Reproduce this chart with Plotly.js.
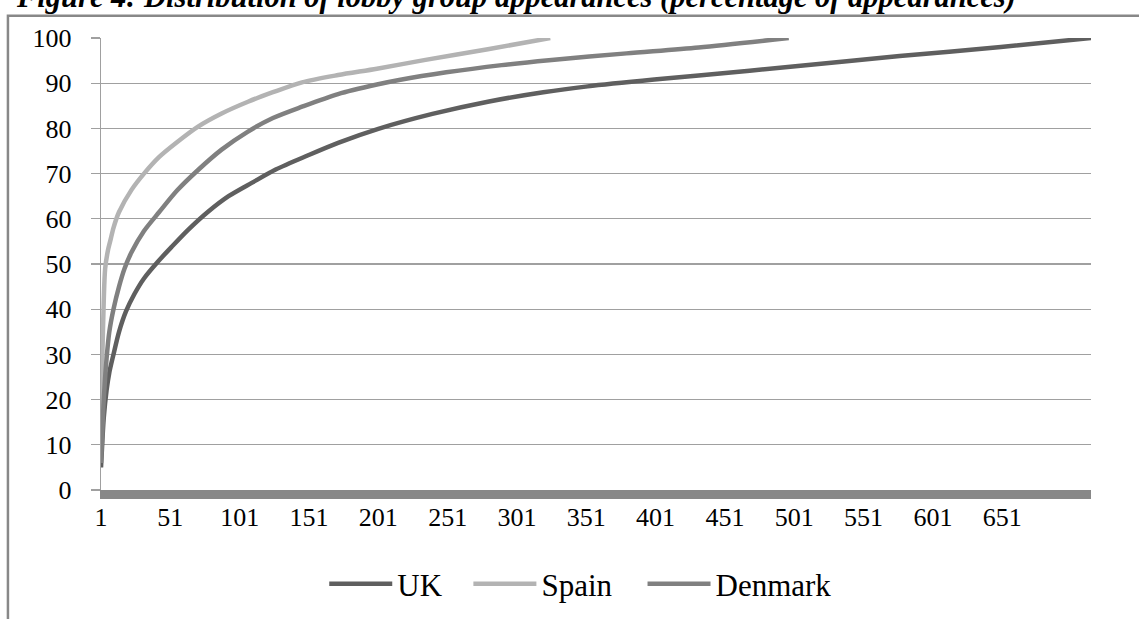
<!DOCTYPE html>
<html>
<head>
<meta charset="utf-8">
<script src="https://cdn.plot.ly/plotly-3.0.1.min.js"></script>
<style>
html,body{margin:0;padding:0;background:#fff;}
#chart{width:1139px;height:619px;}
</style>
</head>
<body>
<div id="chart"></div>
<script>
// Ranked lobby groups (x) and cumulative % of appearances (y)
var ukX = [1, 2, 3, 5, 7, 10, 14, 19, 25, 32, 42, 52, 64, 78, 93, 110, 127, 150, 172, 201, 240, 280, 320, 352, 400, 432, 500, 577, 650, 715];
var ukY = [5, 11, 16, 22, 26, 30, 35, 39.5, 43.3, 46.8, 50.5, 53.8, 57.6, 61.5, 65, 68, 70.9, 74, 76.8, 79.9, 83.2, 85.9, 88, 89.3, 90.8, 91.7, 93.7, 96, 98, 100];

var spainX = [1, 2, 3, 4, 6, 8, 10, 14, 23, 32, 43, 56, 71, 88, 107, 125, 146, 172, 200, 234, 280, 325];
var spainY = [17, 30, 42, 49, 53, 55.5, 58, 61.5, 66.4, 70, 73.7, 77, 80.4, 83.3, 85.9, 88, 90.2, 91.8, 93.2, 95.1, 97.5, 100];

var denmarkX = [1, 2, 3, 5, 7, 10, 14, 18, 23, 32, 43, 56, 71, 88, 107, 125, 146, 172, 200, 216, 250, 290, 324, 380, 432, 497];
var denmarkY = [6, 13, 20, 29, 35, 40, 45, 49, 52.6, 57.3, 61.5, 66.3, 70.8, 75.3, 79.3, 82.3, 84.8, 87.6, 89.7, 90.7, 92.4, 94, 95.1, 96.6, 97.9, 100];

var xTickVals = [1, 51, 101, 151, 201, 251, 301, 351, 401, 451, 501, 551, 601, 651];
var yTickVals = [0, 10, 20, 30, 40, 50, 60, 70, 80, 90, 100];

var titleText = "Figure 4: Distribution of lobby group appearances (percentage of appearances)";
var seriesNames = ["UK", "Spain", "Denmark"];

var serif = 'Liberation Serif, Times New Roman, serif';

function series(name, xs, ys, color, legendId) {
  return {
    type: 'scatter', mode: 'lines', name: name, x: xs, y: ys, legend: legendId,
    line: {color: color, width: 4.5, shape: 'spline', smoothing: 0.8},
    hoverinfo: 'x+y+name'
  };
}

var data = [
  series(seriesNames[0], ukX, ukY, '#5f5f5f', 'legend'),
  series(seriesNames[1], spainX, spainY, '#b3b3b3', 'legend2'),
  series(seriesNames[2], denmarkX, denmarkY, '#808080', 'legend3')
];

function legendAt(xp) {
  return {
    orientation: 'h', xref: 'paper', x: xp, xanchor: 'left',
    yref: 'container', y: 0.0565, yanchor: 'middle',
    font: {family: serif, size: 31, color: '#000'},
    itemwidth: 63, bgcolor: 'rgba(0,0,0,0)'
  };
}

var layout = {
  width: 1139, height: 619,
  margin: {l: 101, r: 48, t: 38, b: 129, pad: 0, autoexpand: false},
  paper_bgcolor: '#ffffff', plot_bgcolor: '#ffffff',
  font: {family: serif, color: '#000', size: 26},
  showlegend: true,
  legend: legendAt(0.2255),
  legend2: legendAt(0.3711),
  legend3: legendAt(0.547),
  xaxis: {
    range: [1, 715], tickmode: 'array', tickvals: xTickVals,
    ticktext: xTickVals.map(String),
    showgrid: false, zeroline: false,
    showline: true, linecolor: '#888888', linewidth: 9,
    ticks: '', tickfont: {family: serif, size: 26, color: '#000'},
    ticklabelstandoff: -4,
    fixedrange: true
  },
  yaxis: {
    range: [0, 100], tickmode: 'array', tickvals: yTickVals,
    showgrid: true, gridcolor: '#a0a0a0', gridwidth: 1.3,
    zeroline: false, showline: true, linecolor: '#a0a0a0', linewidth: 1.3,
    ticks: 'outside', ticklen: 9, tickcolor: '#a0a0a0', tickwidth: 1.3,
    tickfont: {family: serif, size: 26, color: '#000'}, ticklabelstandoff: 14,
    fixedrange: true
  },
  shapes: [{
    type: 'rect', xref: 'paper', yref: 'paper',
    x0: -0.094, x1: 1.2, y0: -0.5, y1: 1.049,
    line: {color: '#888888', width: 2.5}, fillcolor: 'rgba(0,0,0,0)', layer: 'below'
  }],
  annotations: [{
    xref: 'paper', yref: 'paper', x: -0.088, y: 1.0487,
    xanchor: 'left', yanchor: 'bottom', showarrow: false,
    text: '<b><i>' + titleText + '</i></b>',
    font: {family: serif, size: 30.5, color: '#000'}
  }]
};

Plotly.newPlot('chart', data, layout, {displayModeBar: false, staticPlot: true});
</script>
</body>
</html>
